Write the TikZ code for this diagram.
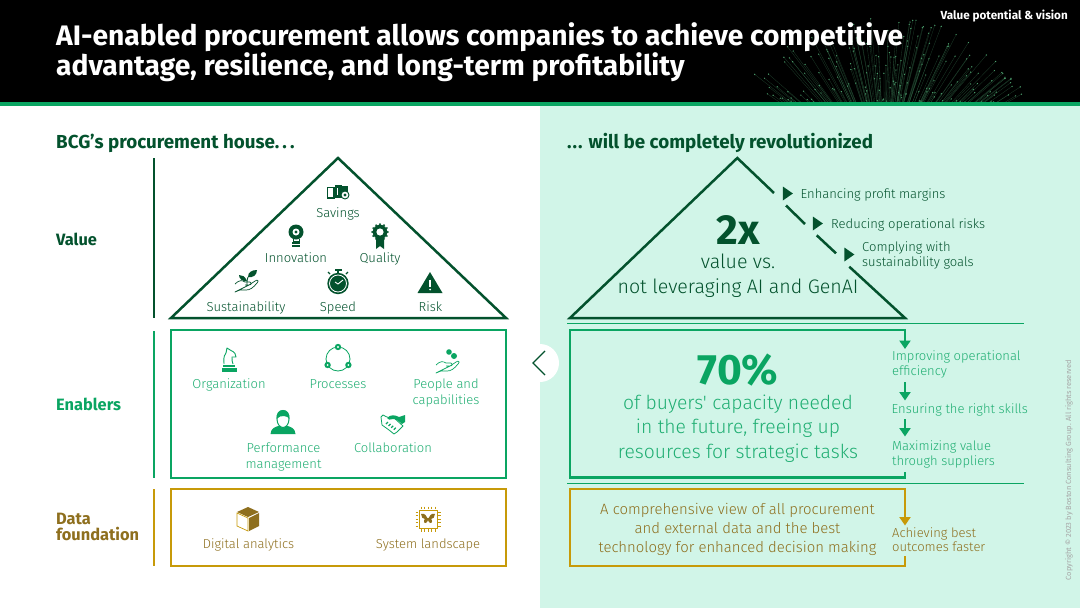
\documentclass[tikz,border=0pt]{standalone}
\usepackage{fontspec}
\setmainfont{Fira Sans}
\newfontfamily\lightfont{Fira Sans Light}
\usetikzlibrary{arrows.meta,shapes.geometric}
\definecolor{forest}{HTML}{03522D}
\definecolor{leaf}{HTML}{0AA562}
\definecolor{leaftext}{HTML}{1FAE72}
\definecolor{gold}{HTML}{C79A09}
\definecolor{goldtext}{HTML}{8E6F1E}
\definecolor{mint}{HTML}{D1F5E8}
\definecolor{fibre}{HTML}{5FC98A}
\tikzstyle{bar} = [line width=2.5pt]
\tikzstyle{house} = [line width=2.5pt, line join=miter]
\tikzstyle{drop} = [line width=2.5pt, -{Triangle[length=8.5pt,width=11pt]}]
\tikzstyle{heading} = [anchor=west, inner sep=0pt, font=\fontsize{18.8}{20}\selectfont\bfseries, text=forest]
\tikzstyle{layer} = [anchor=west, inner sep=0pt, align=left, font=\fontsize{16.4}{16}\selectfont\bfseries]
\tikzstyle{item} = [anchor=base, inner sep=0pt, align=center, font=\lightfont\fontsize{13}{16}\selectfont]
\tikzstyle{note} = [anchor=base west, inner sep=0pt, align=left, font=\lightfont\fontsize{13}{14.6}\selectfont]
\tikzstyle{big} = [inner sep=0pt, font=\fontsize{42}{42}\selectfont\bfseries]
\tikzstyle{claim} = [anchor=base, inner sep=0pt, align=center, font=\lightfont\fontsize{19.6}{25}\selectfont]
\tikzstyle{pointer} = [isosceles triangle, isosceles triangle apex angle=70, minimum width=11pt, minimum height=10pt, inner sep=0pt, fill=forest, text=forest]
\newcommand{\iconsavings}[1]{\begin{scope}[shift={#1}, forest]
\draw[line width=1.4pt] (-10.5,-4.5) rectangle (-4,6);
\fill (-3,-7) rectangle (4,6);
\fill[white] (-1.5,-4) rectangle (0,3);
\fill (4,-6) rectangle (10,1);
\draw[fill=white, line width=0.9pt] (7,3) circle (4);
\fill (7,3) circle (1.6);
\end{scope}}
\newcommand{\iconbulb}[1]{\begin{scope}[shift={#1}, forest]
\fill (0,-4) circle (7.5);
\fill[white] (0,-4) circle (3.5);
\fill (0,-4) circle (1.7);
\draw[line width=1pt] (-3,3) -- (-3,5) -- (3,5) -- (3,3);
\fill (-4,6) rectangle (4,8);
\fill (-4,9) rectangle (4,11);
\end{scope}}
\newcommand{\iconribbon}[1]{\begin{scope}[shift={#1}, forest]
\fill (-4,1) -- (4,1) -- (4,13) -- (0,10) -- (-4,13) -- cycle;
\foreach \a in {0,30,...,330} {\fill ({7.8*cos(\a)},{-4+7.8*sin(\a)}) circle (1.1);}
\fill (0,-4) circle (7.3);
\fill[white] (0,-4) circle (3.6);
\end{scope}}
\newcommand{\iconhand}[2]{\begin{scope}[shift={#1}, #2]
\draw[line width=0.7pt, line join=round] (-11,1) .. controls (-7,-3) and (-4,-3) .. (-1,-1) -- (4,-1) .. controls (6,-1) and (6,2) .. (3,2) -- (-1,2) (3,2) -- (9,-2) .. controls (12,-4) and (13,-2) .. (11,0) .. controls (7,5) and (4,7) .. (0,7) -- (-6,7) -- (-11,9) -- cycle;
\end{scope}}
\newcommand{\iconplant}[1]{\begin{scope}[shift={#1}, forest]
\draw[line width=0.9pt] (-1,4) .. controls (-1,0) and (-1,-2) .. (0,-4);
\fill (0,-4) .. controls (0,-9) and (4,-11) .. (9,-11) .. controls (9,-6) and (5,-3) .. (0,-4);
\fill (-1,0) .. controls (-3,-5) and (-6,-6) .. (-9,-6) .. controls (-9,-2) and (-5,1) .. (-1,0);
\end{scope}}
\newcommand{\iconwatch}[1]{\begin{scope}[shift={#1}, forest]
\fill (0,1.5) circle (10.7);
\fill (-3.5,-13.5) rectangle (3.5,-11);
\fill (-1.2,-11) rectangle (1.2,-8);
\draw[line width=1.4pt] (-8,-8) -- (-10,-10) (8,-8) -- (10,-10);
\draw[white, line width=0.8pt] (0,1.5) circle (8.5);
\draw[white, line width=0.9pt] (-3,0) -- (0,2) -- (5,-2);
\end{scope}}
\newcommand{\iconrisk}[1]{\begin{scope}[shift={#1}]
\fill[forest] (0,-11) -- (12.5,10) -- (-12.5,10) -- cycle;
\draw[white, line width=1.6pt] (0,-3.5) -- (0,3.5);
\fill[white] (0,6.5) circle (1);
\end{scope}}
\newcommand{\iconknight}[1]{\begin{scope}[shift={#1}, leaf]
\draw[line width=0.9pt, line join=round] (-5,4) .. controls (-5,0) and (-6,-3) .. (-3,-7) -- (-2,-12) -- (2,-9.5) .. controls (6,-8) and (7,-5) .. (7,-3) -- (3,-3) .. controls (2,0) and (4,2) .. (4,4);
\fill (-6,4.5) rectangle (6,6.5);
\fill (-7.5,8) -- (7.5,8) -- (7.5,12) -- (-7.5,12) -- cycle;
\end{scope}}
\newcommand{\iconcycle}[1]{\begin{scope}[shift={#1}, leaf]
\draw[line width=0.8pt] (0,0) circle (12);
\foreach \a in {90,210,330} {\fill ({12*cos(\a)},{-12*sin(\a)}) circle (3.2); \fill[white] ({12*cos(\a)},{-12*sin(\a)}) circle (1.1);}
\end{scope}}
\newcommand{\iconperson}[1]{\begin{scope}[shift={#1}, leaf]
\fill (-12.5,12) .. controls (-12,6) and (-8,5) .. (-4.5,4) -- (4.5,4) .. controls (8,5) and (12,6) .. (12.5,12) -- cycle;
\draw[fill=white, line width=1pt] (0,-3) ellipse (6 and 8.5);
\fill (-6.5,-3) .. controls (-7,-9) and (-4,-12) .. (0,-12) .. controls (4,-12) and (7,-9) .. (6.5,-3) .. controls (5,-6) and (-2,-8) .. (-6.5,-3);
\end{scope}}
\newcommand{\iconshake}[1]{\begin{scope}[shift={#1}, leaf]
\draw[line width=0.8pt, line join=round, fill=white] (-12,-7) -- (-10,-9) .. controls (-5,-6) and (-3,-6) .. (0,-7) -- (10,2) -- (4,8) -- (1,10) -- (-4,6) -- (-11,1) -- cycle;
\fill (-6,-6) .. controls (-2,-10) and (2,-9) .. (6,-7) -- (12,-9) -- (12,-2) -- (9,0) .. controls (5,-4) and (2,-5) .. (0,-5) .. controls (-3,-4) and (-5,-4) .. (-6,-6);
\foreach \s in {0,1,2,3} {\draw[line width=1.1pt] (-7+\s*2.6,0+\s*1.9) -- (-5+\s*2.6,-2+\s*1.9);}
\end{scope}}
\newcommand{\iconcube}[1]{\begin{scope}[shift={#1}, goldtext]
\fill (0,-12) -- (11,-7) -- (0,-2) -- (-11,-7) -- cycle;
\fill (1,-1) -- (11,-6) -- (11,7) -- (1,12) -- cycle;
\draw[line width=0.7pt, gold] (-11,-6) -- (-11,7) -- (0,12) -- (0,-1) -- cycle;
\end{scope}}
\newcommand{\iconchip}[1]{\begin{scope}[shift={#1}]
\draw[gold, line width=0.8pt] (-9,-9) rectangle (9,9);
\foreach \p in {-7,-3.5,0,3.5,7} {\draw[gold, line width=0.5pt] (\p,-12.5) -- (\p,-10) (\p,10) -- (\p,12.5) (-12.5,\p) -- (-10,\p) (10,\p) -- (12.5,\p);}
\fill[goldtext] (-0.6,-1) .. controls (-3,-6) and (-6,-6) .. (-7,-5) .. controls (-7,-2) and (-5,0) .. (-3,0) .. controls (-5,1) and (-4,5) .. (-2,4) .. controls (-1,3.5) and (-0.5,2) .. (0,1) .. controls (0.5,2) and (1,3.5) .. (2,4) .. controls (4,5) and (5,1) .. (3,0) .. controls (5,0) and (7,-2) .. (7,-5) .. controls (6,-6) and (3,-6) .. (0.6,-1) -- cycle;
\end{scope}}
\begin{document}
\begin{tikzpicture}[x=1pt,y=-1pt]
\useasboundingbox (0,0) rectangle (1080,608);
\fill[white] (0,0) rectangle (1080,608);
\fill[mint] (540,102) rectangle (1080,608);
\fill[black] (0,0) rectangle (1080,102);
\begin{scope}
\clip (680,0) rectangle (1080,102);
\pgfmathsetseed{23}
\foreach \i in {1,...,240} {
\pgfmathsetmacro{\ang}{30+120*rnd}
\pgfmathsetmacro{\rmax}{268.6/sqrt((1.58*cos(\ang))^2+(1.7*sin(\ang))^2)}
\pgfmathsetmacro{\len}{\rmax*(0.45+0.55*rnd)}
\pgfmathsetmacro{\tipx}{885+\len*cos(\ang)}
\pgfmathsetmacro{\tipy}{175-\len*sin(\ang)}
\draw[fibre!50!black, line width=0.3pt, opacity=0.6] (885,175) -- (\tipx,\tipy);
\fill[fibre!80!black] (\tipx,\tipy) circle (0.7);
}
\end{scope}
\fill[leaf] (0,101.5) rectangle (1080,106);
\node (title) [anchor=west, inner sep=0pt, align=left, text=white, font=\fontsize{28.2}{30}\selectfont\bfseries] at (56,52.5) {AI-enabled procurement allows companies to achieve competitive\\advantage, resilience, and long-term profitability};
\node (tag) [anchor=east, inner sep=0pt, text=white, font=\fontsize{11.7}{12}\selectfont\bfseries] at (1068,16) {Value potential \& vision};
\node (househead) [heading] at (56,143) {BCG’s procurement house.\,.\,.};
\node (futurehead) [heading] at (567,143) {.\kern1pt.\kern1pt. will be completely revolutionized};
\node (value) [layer, text=forest] at (56,239) {Value};
\node (enablers) [layer, text=leaf] at (56,404.5) {Enablers};
\node (foundation) [layer, text=goldtext] at (56,526.5) {Data\\foundation};
\coordinate (valuetop) at (154,158);
\coordinate (valuebot) at (154,318);
\coordinate (enabletop) at (154,331);
\coordinate (enablebot) at (154,478);
\coordinate (datatop) at (154,489);
\coordinate (databot) at (154,566);
\draw [bar, forest] (valuetop) -- (valuebot);
\draw [bar, leaf] (enabletop) -- (enablebot);
\draw [bar, gold] (datatop) -- (databot);
\coordinate (apex) at (338,158);
\coordinate (baseleft) at (171,318);
\coordinate (baseright) at (506,318);
\draw [house, forest] (apex) -- (baseleft) -- (baseright) -- cycle;
\draw [house, leaf] (171,330) rectangle (506,478);
\draw [house, gold] (171,489) rectangle (506,566);
\iconsavings{(338,192)}
\node (savings) [item, text=forest] at (338,217.2) {Savings};
\iconbulb{(296,236)}
\node (innovation) [item, text=forest] at (296,262.7) {Innovation};
\iconribbon{(380,236)}
\node (quality) [item, text=forest] at (380,262.7) {Quality};
\iconhand{(246,283)}{forest}
\iconplant{(248,281)}
\node (sustainability) [item, text=forest] at (246,311.5) {Sustainability};
\iconwatch{(338,282)}
\node (speed) [item, text=forest] at (338,311.5) {Speed};
\iconrisk{(430,283)}
\node (risk) [item, text=forest] at (430.5,311.5) {Risk};
\iconknight{(229,360)}
\node (organization) [item, text=leaftext] at (229,388.3) {Organization};
\iconcycle{(338,359)}
\node (processes) [item, text=leaftext] at (338,388.3) {Processes};
\iconhand{(447,364)}{leaf}
\fill[leaf] (449,352) circle (2.8) (454,356) circle (3);
\node (people) [item, text=leaftext] at (446,404.3) {People and\\capabilities};
\iconperson{(283,422)}
\node (performance) [item, text=leaftext] at (283.5,468.3) {Performance\\management};
\iconshake{(393,424)}
\node (collaboration) [item, text=leaftext] at (393,452) {Collaboration};
\iconcube{(248,519)}
\node (analytics) [item, text=goldtext] at (248.5,548.3) {Digital analytics};
\iconchip{(428,519)}
\node (landscape) [item, text=goldtext] at (428,548.3) {System landscape};
\node (back) [circle, fill=white, minimum size=38pt, inner sep=0pt] at (540,363) {};
\coordinate (chevtop) at (545,351);
\coordinate (chevmid) at (533,363);
\coordinate (chevbot) at (545,375);
\draw [forest, line width=1.3pt] (chevtop) -- (chevmid) -- (chevbot);
\draw [leaf, line width=0.6pt] (567,323.5) -- (1024,323.5) (567,483.5) -- (1024,483.5);
\coordinate (top) at (737.3,158);
\coordinate (cornerleft) at (570,318);
\coordinate (cornerright) at (905,318);
\coordinate (gap1a) at (774,193);
\coordinate (gap1b) at (786,205.5);
\coordinate (gap2a) at (805,224);
\coordinate (gap2b) at (816.7,235.3);
\coordinate (gap3a) at (836,253.3);
\coordinate (gap3b) at (849.3,266.7);
\draw [house, forest] (gap1a) -- (top) -- (cornerleft) -- (cornerright) -- (gap3b);
\draw [house, forest] (gap1b) -- (gap2a);
\draw [house, forest] (gap2b) -- (gap3a);
\node (mark1) [pointer] at (786.5,193.5) {};
\node (mark2) [pointer] at (816.5,223.5) {};
\node (mark3) [pointer] at (848,254.5) {};
\node (margins) [note, text=forest] at (800.5,198.3) {Enhancing profit margins};
\node (risks) [note, text=forest] at (831,228.7) {Reducing operational risks};
\node (goals) [note, text=forest] at (862,266.3) {Complying with\\sustainability goals};
\node (twox) [big, text=forest] at (738,230) {2x};
\node (twoxtext) [claim, text=forest] at (738,293.7) {value vs.\\not leveraging AI and GenAI};
\coordinate (gtopleft) at (570,330);
\coordinate (gtopright) at (905,330);
\coordinate (gtip1) at (905,349);
\coordinate (gshaft2) at (905,382);
\coordinate (gtip2) at (905,400.5);
\coordinate (gshaft3) at (905,419);
\coordinate (gtip3) at (905,436.5);
\coordinate (gstub) at (905,472);
\coordinate (gbotright) at (905,477.5);
\coordinate (gbotleft) at (570,477.5);
\draw [house, leaf] (gstub) -- (gbotright) -- (gbotleft) -- (gtopleft) -- (gtopright) -- (905,340);
\draw [drop, leaf] (gtopright) -- (gtip1);
\draw [drop, leaf] (gshaft2) -- (gtip2);
\draw [drop, leaf] (gshaft3) -- (gtip3);
\node (seventy) [big, text=leaf, font=\fontsize{42.5}{44}\selectfont\bfseries] at (738,370.5) {70\%};
\node (seventytext) [claim, text=leaftext, font=\lightfont\fontsize{19.3}{24.4}\selectfont] at (738,458) {of buyers' capacity needed\\in the future, freeing up\\resources for strategic tasks};
\node (efficiency) [note, text=leaftext] at (892,375) {Improving operational\\efficiency};
\node (skills) [note, text=leaftext] at (891.5,413.3) {Ensuring the right skills};
\node (suppliers) [note, text=leaftext] at (892,465) {Maximizing value\\through suppliers};
\coordinate (ytopleft) at (570,489);
\coordinate (ytopright) at (905,489);
\coordinate (ytip) at (905,525.5);
\coordinate (ystub) at (905,556);
\coordinate (ybotright) at (905,566);
\coordinate (ybotleft) at (570,566);
\draw [house, gold] (ystub) -- (ybotright) -- (ybotleft) -- (ytopleft) -- (ytopright) -- (905,518);
\draw [drop, gold] (ytopright) -- (ytip);
\node (datatext) [claim, text=goldtext, font=\lightfont\fontsize{14.9}{18.7}\selectfont] at (737.5,552.3) {A comprehensive view of all procurement\\and external data and the best\\technology for enhanced decision making};
\node (faster) [note, text=goldtext] at (892,551.7) {Achieving best\\outcomes faster};
\node (copy) [rotate=90, inner sep=0pt, text=black!35, font=\fontsize{7.5}{8}\selectfont] at (1069,470) {Copyright © 2023 by Boston Consulting Group. All rights reserved};
\end{tikzpicture}
\end{document}
